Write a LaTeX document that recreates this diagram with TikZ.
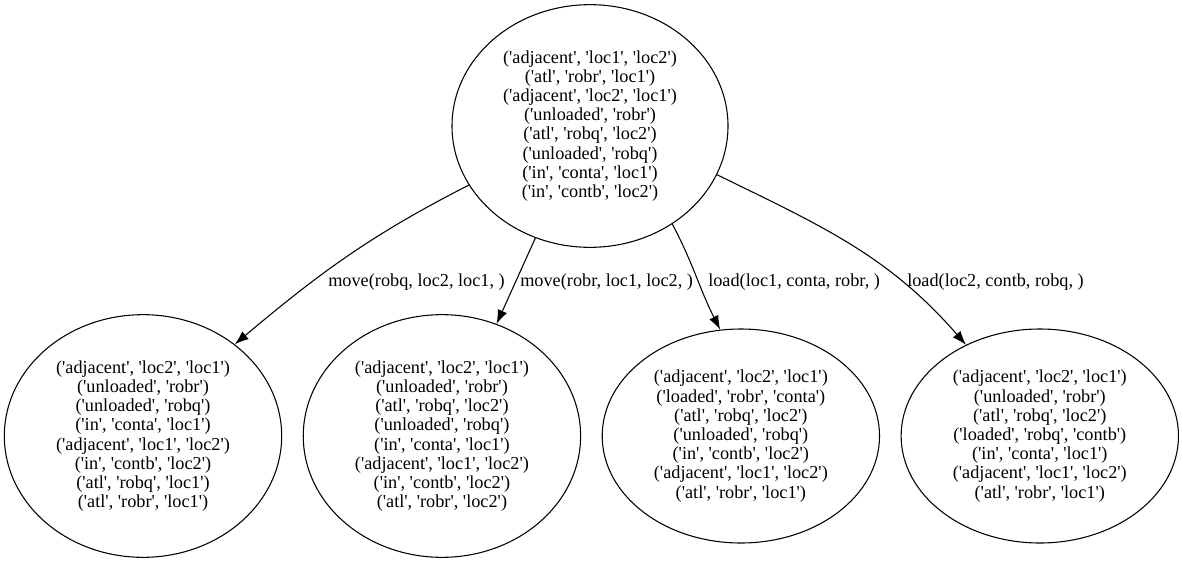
\documentclass[tikz,border=0pt]{standalone}
\usepackage{fontspec}
\setmainfont{Liberation Serif}[Ligatures=TeXOff]
\usetikzlibrary{arrows.meta}
\usetikzlibrary{positioning,shapes.geometric}

\begin{document}
\begin{tikzpicture}[x=0.75pt, y=-0.75pt,
        every node/.style={font=\fontsize{13.7}{14.4}\selectfont, align=center, inner sep=0pt},
        state/.style={ellipse, draw, line width=0.8pt, minimum width=208pt, minimum height=182pt},
        smallstate/.style={state, minimum height=160.5pt},
        trans/.style={-{Latex[length=10.5pt, width=7.5pt]}, line width=0.8pt}]
    \useasboundingbox (0,0) rectangle (1182,561);

    \node (root) [state, minimum width=207pt] at (590,126) {('adjacent', 'loc1', 'loc2')\\('atl', 'robr', 'loc1')\\('adjacent', 'loc2', 'loc1')\\('unloaded', 'robr')\\('atl', 'robq', 'loc2')\\('unloaded', 'robq')\\('in', 'conta', 'loc1')\\('in', 'contb', 'loc2')};

    \node (child1) [state] at (143,436) {('adjacent', 'loc2', 'loc1')\\('unloaded', 'robr')\\('unloaded', 'robq')\\('in', 'conta', 'loc1')\\('adjacent', 'loc1', 'loc2')\\('in', 'contb', 'loc2')\\('atl', 'robq', 'loc1')\\('atl', 'robr', 'loc1')};
    \node (child2) [state, right=15.4pt of child1] {('adjacent', 'loc2', 'loc1')\\('unloaded', 'robr')\\('atl', 'robq', 'loc2')\\('unloaded', 'robq')\\('in', 'conta', 'loc1')\\('adjacent', 'loc1', 'loc2')\\('in', 'contb', 'loc2')\\('atl', 'robr', 'loc2')};
    \node (child3) [smallstate, right=15.4pt of child2] {('adjacent', 'loc2', 'loc1')\\('loaded', 'robr', 'conta')\\('atl', 'robq', 'loc2')\\('unloaded', 'robq')\\('in', 'contb', 'loc2')\\('adjacent', 'loc1', 'loc2')\\('atl', 'robr', 'loc1')};
    \node (child4) [smallstate, right=15.4pt of child3] {('adjacent', 'loc2', 'loc1')\\('unloaded', 'robr')\\('atl', 'robq', 'loc2')\\('loaded', 'robq', 'contb')\\('in', 'conta', 'loc1')\\('adjacent', 'loc1', 'loc2')\\('atl', 'robr', 'loc1')};

    \node (lab1) [anchor=west] at (328,282) {move(robq, loc2, loc1, )};
    \node (lab2) [anchor=west] at (520,282) {move(robr, loc1, loc2, )};
    \node (lab3) [anchor=west] at (708,282) {load(loc1, conta, robr, )};
    \node (lab4) [anchor=west] at (907,282) {load(loc2, contb, robq, )};

\draw [trans] (root.206) to[out=207, in=40] (child1.45);

\draw [trans] (root.244.5) -- (child2.64.7);

\draw [trans] (root.310) to[out=298, in=117] (child3.101);

\draw [trans] (root.-21) to[out=-26, in=131] (child4.129);
\end{tikzpicture}
\end{document}
